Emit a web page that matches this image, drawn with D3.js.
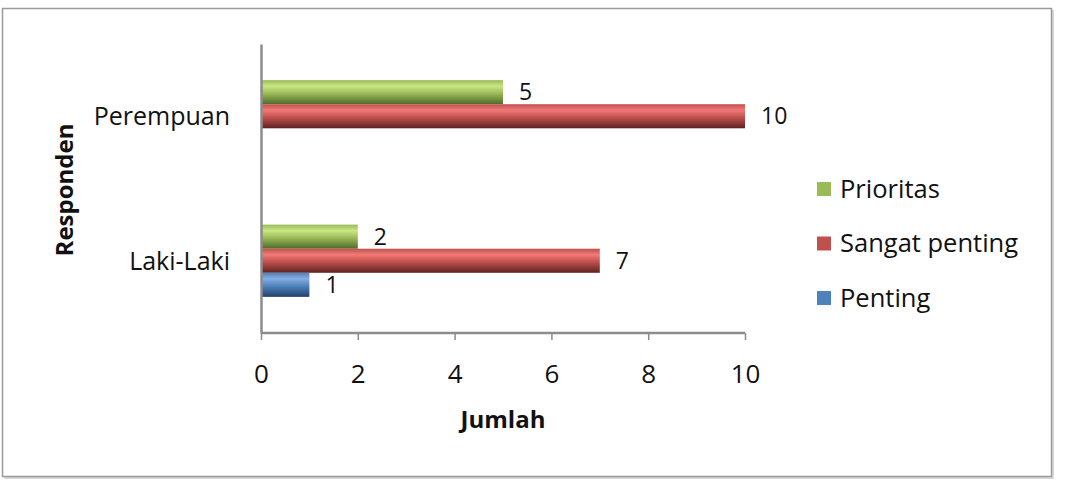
<!DOCTYPE html>
<html>
<head>
<meta charset="utf-8">
<script src="https://cdn.jsdelivr.net/npm/d3@7"></script>
<style>
  body { margin: 0; background: #fff; }
  svg text { font-family: "Open Sans", "Liberation Sans", sans-serif; fill: #111; }
</style>
</head>
<body>
<svg id="chart" width="1071" height="481"></svg>
<script>
// data
var categories = ["Perempuan", "Laki-Laki"];
var seriesNames = ["Prioritas", "Sangat penting", "Penting"];
var prioritas = [5, 2];
var sangatPenting = [10, 7];
var penting = [null, 1];
var xTicks = [0, 2, 4, 6, 8, 10];

var seriesValues = [prioritas, sangatPenting, penting];
var colors = {
    "Prioritas": ["#c9e683", "#9bbb59", "#4f6a28"],
    "Sangat penting": ["#f07a78", "#c0504d", "#5e2221"],
    "Penting": ["#86aee2", "#4f81bd", "#23426b"]
};

var svg = d3.select("#chart");

// outer frame with a soft shadow
svg.append("rect").attr("x", 4).attr("y", 10).attr("width", 1050).attr("height", 469)
    .attr("fill", "#d8d8d8");
svg.append("rect").attr("x", 2.5).attr("y", 8.5).attr("width", 1049).attr("height", 468)
    .attr("fill", "#fff").attr("stroke", "#9a9a9a").attr("stroke-width", 1.5);

var defs = svg.append("defs");
seriesNames.forEach(function(name, i) {
    var g = defs.append("linearGradient").attr("id", "grad" + i)
        .attr("x1", 0).attr("y1", 0).attr("x2", 0).attr("y2", 1);
    var c = colors[name];
    g.append("stop").attr("offset", "0%").attr("stop-color", c[1]);
    g.append("stop").attr("offset", "25%").attr("stop-color", c[0]);
    g.append("stop").attr("offset", "55%").attr("stop-color", c[1]);
    g.append("stop").attr("offset", "100%").attr("stop-color", c[2]);
});

var x = d3.scaleLinear().domain([0, 10]).range([261, 745]);
var y = d3.scaleBand().domain(categories).range([44, 333])
    .paddingInner(0.5).paddingOuter(0.25);
var ySub = d3.scaleBand().domain(seriesNames).range([0, y.bandwidth()]);

// bars
var rows = [];
categories.forEach(function(cat, ci) {
    seriesNames.forEach(function(s, si) {
        var v = seriesValues[si][ci];
        if (v != null) rows.push({ cat: cat, series: s, si: si, value: v });
    });
});

var bars = svg.append("g");
bars.selectAll("rect").data(rows).enter().append("rect")
    .attr("x", x(0))
    .attr("y", function(d) { return y(d.cat) + ySub(d.series); })
    .attr("width", function(d) { return x(d.value) - x(0); })
    .attr("height", ySub.bandwidth())
    .attr("fill", function(d) { return "url(#grad" + d.si + ")"; });

bars.selectAll("text").data(rows).enter().append("text")
    .attr("x", function(d) { return x(d.value) + 16; })
    .attr("y", function(d) { return y(d.cat) + ySub(d.series) + ySub.bandwidth() / 2; })
    .attr("dy", "0.35em")
    .style("font-size", "23px")
    .text(function(d) { return d.value; });

// axes
var xAxis = svg.append("g").attr("transform", "translate(0,333)")
    .call(d3.axisBottom(x).tickValues(xTicks).tickSize(7).tickPadding(25));
xAxis.select(".domain").attr("stroke", "#8c8c8c").attr("stroke-width", 2.5)
    .attr("d", "M" + x(0) + ",0H" + x(10));
xAxis.selectAll(".tick line").attr("stroke", "#8c8c8c").attr("stroke-width", 1.5);
xAxis.selectAll(".tick text").style("font-size", "26px").attr("fill", "#111")
    .style("font-family", '"Open Sans", "Liberation Sans", sans-serif');

var yAxis = svg.append("g").attr("transform", "translate(" + x(0) + ",0)")
    .call(d3.axisLeft(y).tickSize(0).tickPadding(31));
yAxis.select(".domain").attr("stroke", "#8c8c8c").attr("stroke-width", 2.5);
yAxis.selectAll(".tick text").style("font-size", "25px").attr("fill", "#111")
    .style("font-family", '"Open Sans", "Liberation Sans", sans-serif')
    .attr("dy", "0.35em");

// axis titles
svg.append("text").attr("x", 503).attr("y", 428).attr("text-anchor", "middle")
    .style("font-size", "24px").style("font-weight", "bold").text("Jumlah");
svg.append("text").attr("transform", "translate(73,190) rotate(-90)")
    .attr("text-anchor", "middle")
    .style("font-size", "24px").style("font-weight", "bold").text("Responden");

// legend
var legend = svg.append("g").selectAll("g").data(seriesNames).enter().append("g")
    .attr("transform", function(d, i) { return "translate(817," + (189 + i * 54.5) + ")"; });
legend.append("rect").attr("x", 0).attr("y", -7).attr("width", 14).attr("height", 14)
    .attr("fill", function(d) { return colors[d][1]; });
legend.append("text").attr("x", 23).attr("dy", "0.35em")
    .style("font-size", "25.5px").text(function(d) { return d; });
</script>
</body>
</html>
